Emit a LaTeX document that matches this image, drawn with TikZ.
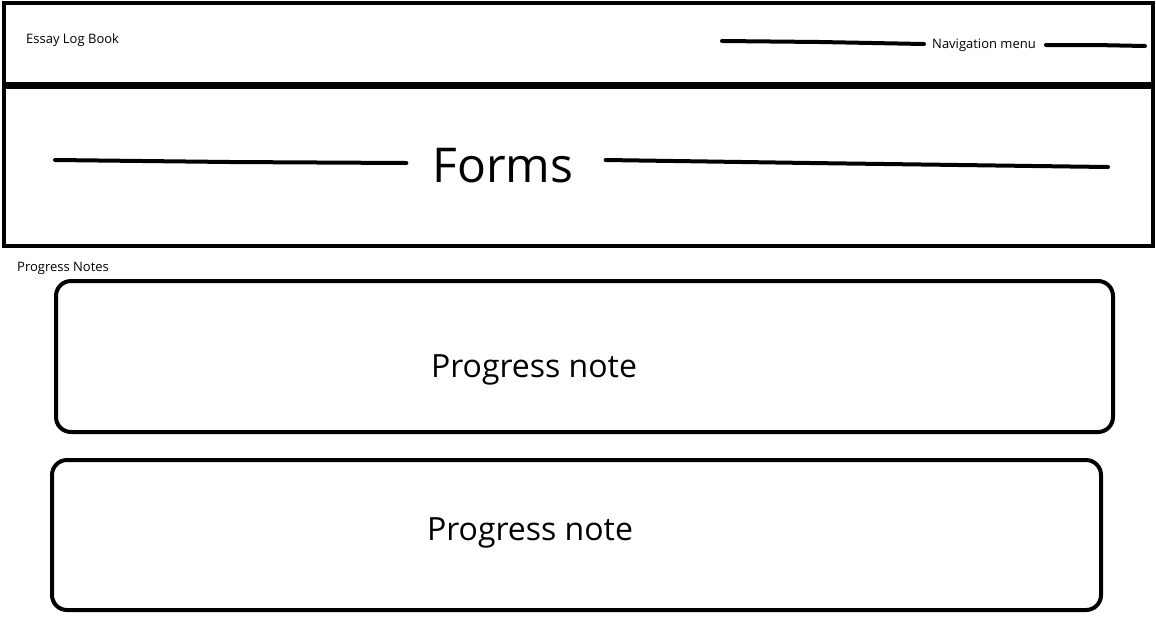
\documentclass[tikz,border=0pt]{standalone}
\usepackage{fontspec}
\setmainfont{Open Sans}
\usepackage{tikz}
\usetikzlibrary{positioning}

\tikzset{
  frame/.style={line width=4pt},
  sketch/.style={line width=4pt, line cap=round},
  notebox/.style={draw, line width=4pt, rounded corners=15pt},
  smalltext/.style={font=\fontsize{13}{15}\selectfont, inner sep=0pt},
}

\begin{document}
\begin{tikzpicture}[x=1pt, y=-1pt]
  \useasboundingbox (0,0) rectangle (1156,641);
  % header and banner
  \draw[frame] (4,3) rectangle (1153,246);
  \draw[line width=7pt] (4,85) -- (1153,85);
  \node[smalltext, anchor=west] (title) at (26,40) {Essay Log Book};
  \node[smalltext] (nav) at (984,45) {Navigation menu};
  \coordinate (navL) at (722,41);
  \coordinate (navR) at (1145,46);
  \draw[sketch] (navL) -- (820,42) -- ([xshift=-8pt]nav.west |- 0,44);
  \draw[sketch] ([xshift=10pt]nav.east |- 0,45) -- (1095,45) -- (navR);
  \node[font=\fontsize{48}{52}\selectfont, inner sep=0pt] (forms) at (503,166) {Forms};
  \coordinate (formsL) at (55,160);
  \coordinate (formsR) at (1108,167);
  \draw[sketch] (formsL) -- (230,162) -- ([xshift=-26pt]forms.west |- 0,163);
  \draw[sketch] ([xshift=32pt]forms.east |- 0,160) -- (810,163) -- (formsR);
  % progress notes
  \node[smalltext, anchor=west] (notes) at (17,268) {Progress Notes};
  \node[notebox, minimum width=1057pt, minimum height=151pt] (note1) at (584.5,356.5) {};
  \node[notebox, minimum width=1049pt, minimum height=150pt] (note2) at (576.5,535) {};
  \node[font=\fontsize{32}{36}\selectfont, inner sep=0pt] (text1) at (534,370) {Progress note};
  \node[font=\fontsize{32}{36}\selectfont, inner sep=0pt] (text2) at (530,533) {Progress note};
\end{tikzpicture}
\end{document}
